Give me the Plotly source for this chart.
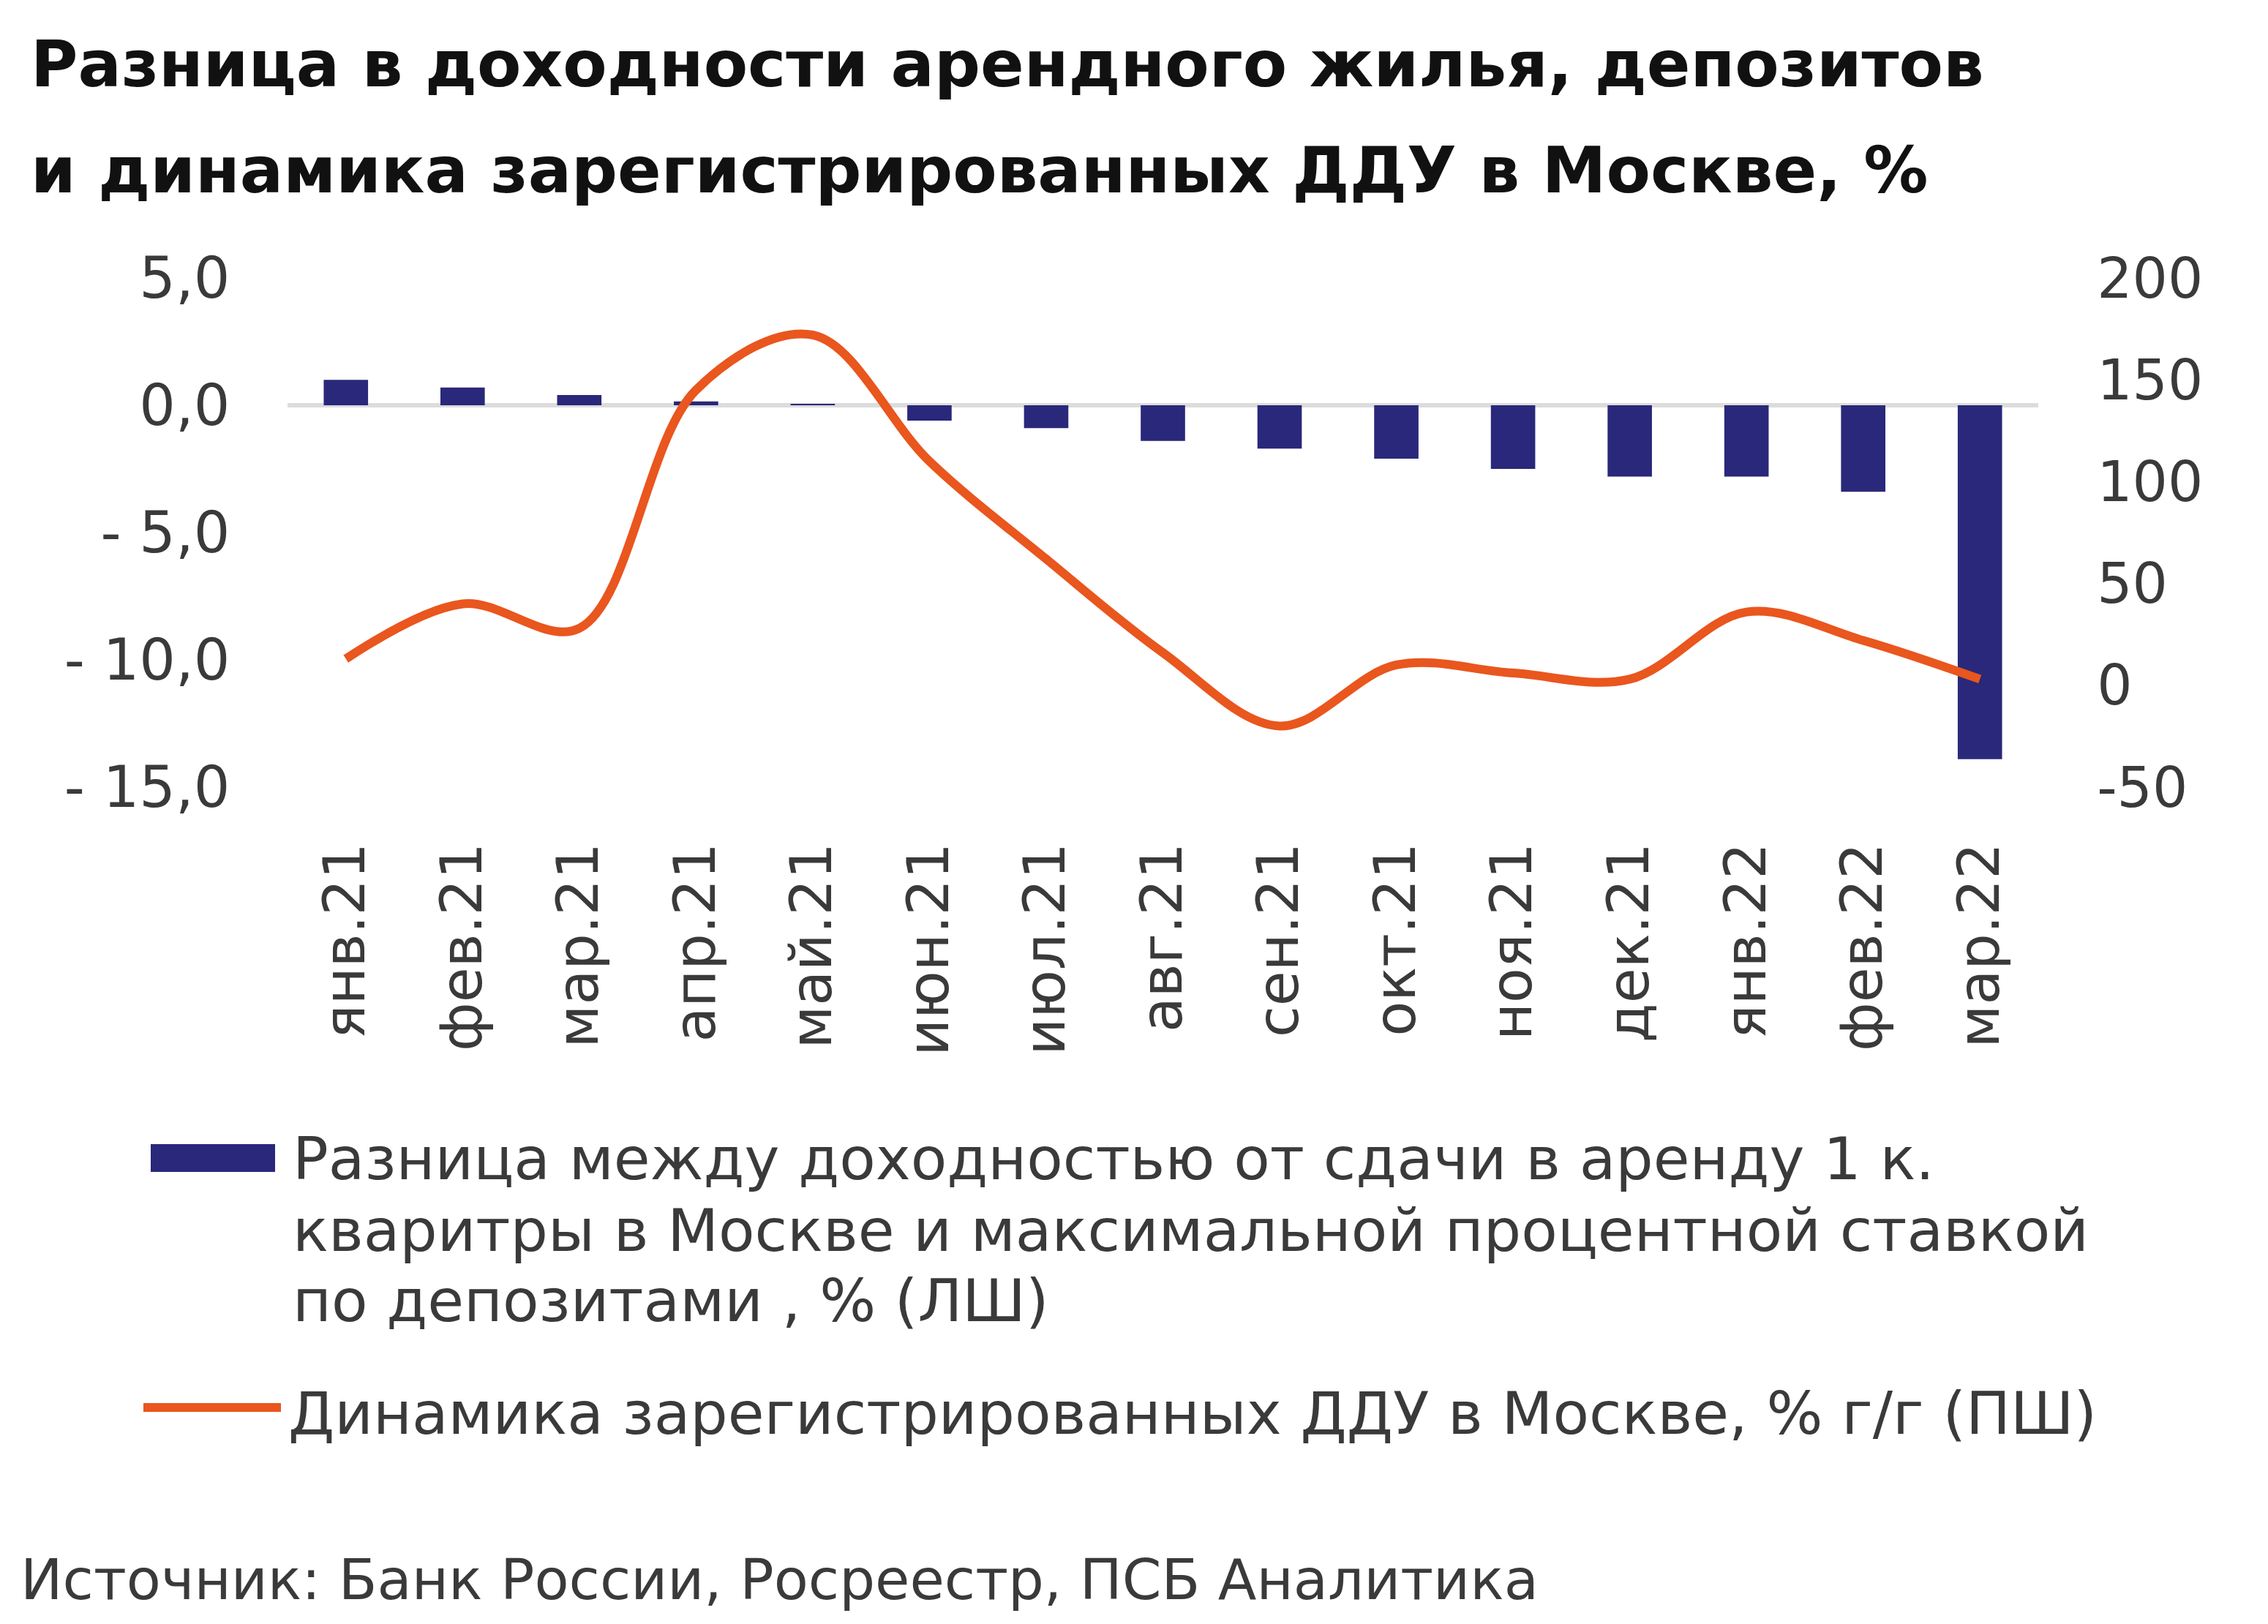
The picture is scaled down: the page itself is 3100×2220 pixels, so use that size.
import plotly.graph_objs as go

# months on the x axis
months = ["янв.21", "фев.21", "мар.21", "апр.21", "май.21", "июн.21", "июл.21", "авг.21",
          "сен.21", "окт.21", "ноя.21", "дек.21", "янв.22", "фев.22", "мар.22"]

# yield spread rent vs deposit, % (left axis)
spread = [1.0, 0.7, 0.4, 0.15, 0.03, -0.6, -0.9, -1.4, -1.7, -2.1, -2.5, -2.8, -2.8, -3.4, -13.9]

# registered DDU in Moscow, % y/y (right axis)
ddu = [13, 40, 28, 145, 172, 110, 62, 16, -20, 10, 6, 3, 36, 22, 3]

left_ticks = [5, 0, -5, -10, -15]
left_labels = ["5,0", "0,0", "- 5,0", "- 10,0", "- 15,0"]
right_ticks = [200, 150, 100, 50, 0, -50]
right_labels = ["200", "150", "100", "50", "0", "-50"]

title_lines = ["Разница в доходности арендного жилья, депозитов",
               "и динамика зарегистрированных ДДУ в Москве, %"]
bar_lines = ["Разница между доходностью от сдачи в аренду 1 к.",
             "кваритры в Москве и максимальной процентной ставкой",
             "по депозитами , % (ЛШ)"]
line_name = "Динамика зарегистрированных ДДУ в Москве, % г/г (ПШ)"
source = "Источник: Банк России, Росреестр, ПСБ Аналитика"

W, H = 3100, 2220
L, R, T, B = 385, 2778, 372, 1068  # plot area in pixels
NAVY = "#29287a"
ORANGE = "#e9561e"
FONT = "DejaVu Sans"
TXT = "#3a3a3a"


def px(x):  # pixel -> paper x
    return (x - L) / (R - L)


def py(y):  # pixel (from top) -> paper y
    return (B - y) / (B - T)


fig = go.Figure()
fig.add_trace(go.Bar(x=months, y=spread, name=" ".join(bar_lines), marker=dict(color=NAVY, line=dict(width=0)),
                     yaxis="y", showlegend=False))
fig.add_trace(go.Scatter(x=months, y=ddu, name=line_name, mode="lines",
                         line=dict(color=ORANGE, width=12, shape="spline", smoothing=1.0),
                         yaxis="y2", showlegend=False))

ann = []
# title, two lines
for txt, yy in zip(title_lines, [79, 225]):
    ann.append(dict(text="<b>" + txt + "</b>", x=px(32), y=py(yy), xanchor="left", yanchor="middle",
                    font=dict(size=88, color="#111111", family=FONT)))
# legend text (first entry wraps over three lines)
for txt, yy in zip(bar_lines, [1576, 1674, 1770]):
    ann.append(dict(text=txt, x=px(390), y=py(yy), xanchor="left", yanchor="middle",
                    font=dict(size=81, color=TXT, family=FONT)))
ann.append(dict(text=line_name, x=px(384), y=py(1924), xanchor="left", yanchor="middle",
                font=dict(size=81, color=TXT, family=FONT)))
# source
ann.append(dict(text=source, x=px(18), y=py(2151), xanchor="left", yanchor="middle",
                font=dict(size=77, color=TXT, family=FONT)))
for a in ann:
    a.update(xref="paper", yref="paper", showarrow=False)

shapes = [
    dict(type="rect", xref="paper", yref="paper", x0=px(198), x1=px(368), y0=py(1594), y1=py(1556),
         fillcolor=NAVY, line=dict(width=0)),
    dict(type="line", xref="paper", yref="paper", x0=px(188), x1=px(376), y0=py(1916), y1=py(1916),
         line=dict(color=ORANGE, width=12)),
]

fig.update_layout(
    width=W, height=H,
    margin=dict(l=L, r=W - R, t=T, b=H - B, autoexpand=False),
    paper_bgcolor="white", plot_bgcolor="white",
    bargap=0.62,
    showlegend=False,
    annotations=ann,
    shapes=shapes,
    font=dict(family=FONT, color="#333333"),
    xaxis=dict(tickangle=-90, showgrid=False, showline=False, zeroline=False,
               ticks="outside", ticklen=44, tickcolor="rgba(0,0,0,0)",
               tickfont=dict(size=78, color=TXT, family=FONT)),
    yaxis=dict(range=[-15, 5], tickvals=left_ticks, ticktext=left_labels, showgrid=False,
               zeroline=True, zerolinecolor="#dcdcdc", zerolinewidth=6, showline=False,
               ticks="outside", ticklen=62, tickcolor="rgba(0,0,0,0)",
               tickfont=dict(size=78, color=TXT, family=FONT)),
    yaxis2=dict(range=[-50, 200], tickvals=right_ticks, ticktext=right_labels, overlaying="y",
                side="right", showgrid=False, zeroline=False, showline=False,
                ticks="outside", ticklen=64, tickcolor="rgba(0,0,0,0)",
                tickfont=dict(size=76, color=TXT, family=FONT)),
)

fig.write_html("out.html")
